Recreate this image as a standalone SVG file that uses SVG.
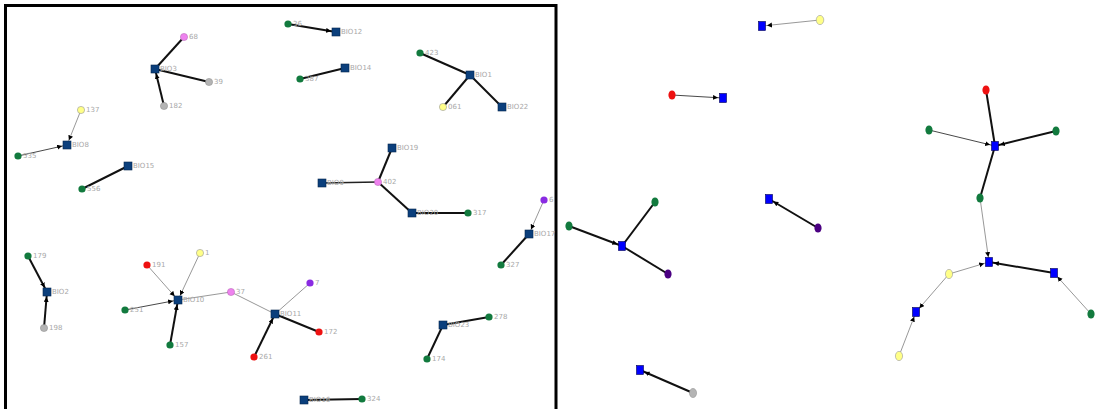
<svg xmlns="http://www.w3.org/2000/svg" width="1107" height="409" viewBox="0 0 1107 409">
<style>
.bg{fill:#fff}
.frame{fill:none;stroke:#000;stroke-width:3}
.sq{fill:#0b3f7c;stroke:#06264d;stroke-width:0.6}
.sqb{fill:#0000ff;stroke:#000050;stroke-width:0.6}
.g{fill:#127a3e}
.y{fill:#ffff88;stroke:#999;stroke-width:0.6}
.gr{fill:#b4b4b4;stroke:#888;stroke-width:0.5}
.pk{fill:#ee82ee;stroke:#b060b0;stroke-width:0.5}
.r{fill:#ee1111}
.pu{fill:#8a2be2}
.dp{fill:#4b0082}
.lbl{font-family:"DejaVu Sans",sans-serif;font-size:7px;fill:#a8a8a8}
.thick{stroke:#111;stroke-width:2;fill:none}
.med{stroke:#222;stroke-width:1.3;fill:none}
.thin{stroke:#8c8c8c;stroke-width:0.9;fill:none}
.thind{stroke:#333;stroke-width:0.9;fill:none}
</style>
<defs>
<marker id="ah" markerUnits="userSpaceOnUse" markerWidth="12" markerHeight="6" refX="10" refY="2.5" orient="auto">
<path d="M0,0 L5,2.5 L0,5 z" fill="#000"/>
</marker>
</defs>
<rect class="bg" x="0" y="0" width="1107" height="409"/>
<path class="frame" d="M5.5,412 V5.5 H556 V412"/>
<g id="connectors">
<line class="thick" x1="184" y1="37" x2="155" y2="69"/>
<line class="thick" x1="209" y1="82" x2="155" y2="69"/>
<line class="thick" x1="164" y1="106" x2="155" y2="69" marker-end="url(#ah)"/>
<line class="thick" x1="288" y1="24" x2="336" y2="32" marker-end="url(#ah)"/>
<line class="thick" x1="300" y1="79" x2="345" y2="68"/>
<line class="thick" x1="420" y1="53" x2="470" y2="75"/>
<line class="thick" x1="470" y1="75" x2="443" y2="107"/>
<line class="thick" x1="470" y1="75" x2="502" y2="107"/>
<line class="thin" x1="81" y1="110" x2="67" y2="145" marker-end="url(#ah)"/>
<line class="thind" x1="18" y1="156" x2="67" y2="145" marker-end="url(#ah)"/>
<line class="thick" x1="82" y1="189" x2="128" y2="166"/>
<line class="thick" x1="392" y1="148" x2="378" y2="182"/>
<line class="med" x1="322" y1="183" x2="378" y2="182"/>
<line class="thick" x1="378" y1="182" x2="412" y2="213"/>
<line class="thick" x1="412" y1="213" x2="468" y2="213"/>
<line class="thin" x1="544" y1="200" x2="529" y2="234" marker-end="url(#ah)"/>
<line class="thick" x1="501" y1="265" x2="529" y2="234"/>
<line class="thick" x1="28" y1="256" x2="47" y2="292" marker-end="url(#ah)"/>
<line class="thick" x1="44" y1="328" x2="47" y2="292" marker-end="url(#ah)"/>
<line class="thin" x1="147" y1="265" x2="178" y2="300" marker-end="url(#ah)"/>
<line class="thin" x1="200" y1="253" x2="178" y2="300" marker-end="url(#ah)"/>
<line class="thind" x1="125" y1="310" x2="178" y2="300" marker-end="url(#ah)"/>
<line class="thick" x1="170" y1="345" x2="178" y2="300" marker-end="url(#ah)"/>
<line class="thin" x1="178" y1="300" x2="231" y2="292"/>
<line class="thin" x1="231" y1="292" x2="275" y2="314"/>
<line class="thin" x1="310" y1="283" x2="275" y2="314"/>
<line class="thick" x1="275" y1="314" x2="319" y2="332"/>
<line class="thick" x1="254" y1="357" x2="275" y2="314" marker-end="url(#ah)"/>
<line class="thick" x1="443" y1="325" x2="489" y2="317"/>
<line class="thick" x1="427" y1="359" x2="443" y2="325"/>
<line class="thick" x1="304" y1="400" x2="362" y2="399"/>
<line class="thin" x1="820" y1="20" x2="762" y2="26" marker-end="url(#ah)"/>
<line class="thind" x1="672" y1="95" x2="723" y2="98" marker-end="url(#ah)"/>
<line class="thick" x1="986" y1="90" x2="995" y2="146"/>
<line class="thind" x1="929" y1="130" x2="995" y2="146" marker-end="url(#ah)"/>
<line class="thick" x1="1056" y1="131" x2="995" y2="146" marker-end="url(#ah)"/>
<line class="thick" x1="995" y1="146" x2="980" y2="198"/>
<line class="thin" x1="980" y1="198" x2="989" y2="262" marker-end="url(#ah)"/>
<line class="thin" x1="949" y1="274" x2="989" y2="262" marker-end="url(#ah)"/>
<line class="thick" x1="1054" y1="273" x2="989" y2="262" marker-end="url(#ah)"/>
<line class="thin" x1="1091" y1="314" x2="1054" y2="273" marker-end="url(#ah)"/>
<line class="thin" x1="949" y1="274" x2="916" y2="312" marker-end="url(#ah)"/>
<line class="thin" x1="899" y1="356" x2="916" y2="312" marker-end="url(#ah)"/>
<line class="thick" x1="569" y1="226" x2="622" y2="246" marker-end="url(#ah)"/>
<line class="thick" x1="655" y1="202" x2="622" y2="246"/>
<line class="thick" x1="622" y1="246" x2="668" y2="274"/>
<line class="thick" x1="818" y1="228" x2="769" y2="199" marker-end="url(#ah)"/>
<line class="thick" x1="693" y1="393" x2="640" y2="370" marker-end="url(#ah)"/>
</g>
<g id="n68"><circle class="pk" cx="184" cy="37" r="3.6"/><text class="lbl" x="189" y="39">68</text></g>
<g id="nBIO3"><rect class="sq" x="151" y="65" width="8" height="8"/><text class="lbl" x="160" y="71">BIO3</text></g>
<g id="n39"><circle class="gr" cx="209" cy="82" r="3.6"/><text class="lbl" x="214" y="84">39</text></g>
<g id="n182"><circle class="gr" cx="164" cy="106" r="3.6"/><text class="lbl" x="169" y="108">182</text></g>
<g id="n36"><circle class="g" cx="288" cy="24" r="3.6"/><text class="lbl" x="293" y="26">36</text></g>
<g id="nBIO12"><rect class="sq" x="332" y="28" width="8" height="8"/><text class="lbl" x="341" y="34">BIO12</text></g>
<g id="n387"><circle class="g" cx="300" cy="79" r="3.6"/><text class="lbl" x="305" y="81">387</text></g>
<g id="nBIO14"><rect class="sq" x="341" y="64" width="8" height="8"/><text class="lbl" x="350" y="70">BIO14</text></g>
<g id="n423"><circle class="g" cx="420" cy="53" r="3.6"/><text class="lbl" x="425" y="55">423</text></g>
<g id="nBIO1"><rect class="sq" x="466" y="71" width="8" height="8"/><text class="lbl" x="475" y="77">BIO1</text></g>
<g id="n061"><circle class="y" cx="443" cy="107" r="3.6"/><text class="lbl" x="448" y="109">061</text></g>
<g id="nBIO22"><rect class="sq" x="498" y="103" width="8" height="8"/><text class="lbl" x="507" y="109">BIO22</text></g>
<g id="n137"><circle class="y" cx="81" cy="110" r="3.6"/><text class="lbl" x="86" y="112">137</text></g>
<g id="nBIO8"><rect class="sq" x="63" y="141" width="8" height="8"/><text class="lbl" x="72" y="147">BIO8</text></g>
<g id="n535"><circle class="g" cx="18" cy="156" r="3.6"/><text class="lbl" x="23" y="158">535</text></g>
<g id="nBIO15"><rect class="sq" x="124" y="162" width="8" height="8"/><text class="lbl" x="133" y="168">BIO15</text></g>
<g id="n556"><circle class="g" cx="82" cy="189" r="3.6"/><text class="lbl" x="87" y="191">556</text></g>
<g id="nBIO19"><rect class="sq" x="388" y="144" width="8" height="8"/><text class="lbl" x="397" y="150">BIO19</text></g>
<g id="nBIO9"><rect class="sq" x="318" y="179" width="8" height="8"/><text class="lbl" x="327" y="185">BIO9</text></g>
<g id="n402"><circle class="pk" cx="378" cy="182" r="3.6"/><text class="lbl" x="383" y="184">402</text></g>
<g id="nBIO20"><rect class="sq" x="408" y="209" width="8" height="8"/><text class="lbl" x="417" y="215">BIO20</text></g>
<g id="n317"><circle class="g" cx="468" cy="213" r="3.6"/><text class="lbl" x="473" y="215">317</text></g>
<g id="n6"><circle class="pu" cx="544" cy="200" r="3.6"/><text class="lbl" x="549" y="202">6</text></g>
<g id="nBIO17"><rect class="sq" x="525" y="230" width="8" height="8"/><text class="lbl" x="534" y="236">BIO17</text></g>
<g id="n327"><circle class="g" cx="501" cy="265" r="3.6"/><text class="lbl" x="506" y="267">327</text></g>
<g id="n179"><circle class="g" cx="28" cy="256" r="3.6"/><text class="lbl" x="33" y="258">179</text></g>
<g id="nBIO2"><rect class="sq" x="43" y="288" width="8" height="8"/><text class="lbl" x="52" y="294">BIO2</text></g>
<g id="n198"><circle class="gr" cx="44" cy="328" r="3.6"/><text class="lbl" x="49" y="330">198</text></g>
<g id="n191"><circle class="r" cx="147" cy="265" r="3.6"/><text class="lbl" x="152" y="267">191</text></g>
<g id="n1"><circle class="y" cx="200" cy="253" r="3.6"/><text class="lbl" x="205" y="255">1</text></g>
<g id="nBIO10"><rect class="sq" x="174" y="296" width="8" height="8"/><text class="lbl" x="183" y="302">BIO10</text></g>
<g id="n251"><circle class="g" cx="125" cy="310" r="3.6"/><text class="lbl" x="130" y="312">251</text></g>
<g id="n157"><circle class="g" cx="170" cy="345" r="3.6"/><text class="lbl" x="175" y="347">157</text></g>
<g id="n37"><circle class="pk" cx="231" cy="292" r="3.6"/><text class="lbl" x="236" y="294">37</text></g>
<g id="n7"><circle class="pu" cx="310" cy="283" r="3.6"/><text class="lbl" x="315" y="285">7</text></g>
<g id="nBIO11"><rect class="sq" x="271" y="310" width="8" height="8"/><text class="lbl" x="280" y="316">BIO11</text></g>
<g id="n172"><circle class="r" cx="319" cy="332" r="3.6"/><text class="lbl" x="324" y="334">172</text></g>
<g id="n261"><circle class="r" cx="254" cy="357" r="3.6"/><text class="lbl" x="259" y="359">261</text></g>
<g id="nBIO23"><rect class="sq" x="439" y="321" width="8" height="8"/><text class="lbl" x="448" y="327">BIO23</text></g>
<g id="n278"><circle class="g" cx="489" cy="317" r="3.6"/><text class="lbl" x="494" y="319">278</text></g>
<g id="n174"><circle class="g" cx="427" cy="359" r="3.6"/><text class="lbl" x="432" y="361">174</text></g>
<g id="nBIO16"><rect class="sq" x="300" y="396" width="8" height="8"/><text class="lbl" x="309" y="402">BIO16</text></g>
<g id="n324"><circle class="g" cx="362" cy="399" r="3.6"/><text class="lbl" x="367" y="401">324</text></g>
<g id="r1"><rect class="sqb" x="758.5" y="21.5" width="7" height="9"/></g>
<g id="r2"><ellipse class="y" cx="820" cy="20" rx="3.8" ry="4.6"/></g>
<g id="r3"><ellipse class="r" cx="672" cy="95" rx="3.6" ry="4.6"/></g>
<g id="r4"><rect class="sqb" x="719.5" y="93.5" width="7" height="9"/></g>
<g id="r5"><ellipse class="r" cx="986" cy="90" rx="3.6" ry="4.6"/></g>
<g id="r6"><ellipse class="g" cx="929" cy="130" rx="3.6" ry="4.6"/></g>
<g id="r7"><ellipse class="g" cx="1056" cy="131" rx="3.6" ry="4.6"/></g>
<g id="r8"><rect class="sqb" x="991.5" y="141.5" width="7" height="9"/></g>
<g id="r9"><ellipse class="g" cx="980" cy="198" rx="3.6" ry="4.6"/></g>
<g id="r10"><rect class="sqb" x="985.5" y="257.5" width="7" height="9"/></g>
<g id="r11"><ellipse class="y" cx="949" cy="274" rx="3.6" ry="4.6"/></g>
<g id="r12"><rect class="sqb" x="1050.5" y="268.5" width="7" height="9"/></g>
<g id="r13"><ellipse class="g" cx="1091" cy="314" rx="3.6" ry="4.6"/></g>
<g id="r14"><rect class="sqb" x="912.5" y="307.5" width="7" height="9"/></g>
<g id="r15"><ellipse class="y" cx="899" cy="356" rx="3.6" ry="4.6"/></g>
<g id="r16"><ellipse class="g" cx="655" cy="202" rx="3.6" ry="4.6"/></g>
<g id="r17"><ellipse class="g" cx="569" cy="226" rx="3.6" ry="4.6"/></g>
<g id="r18"><rect class="sqb" x="618.5" y="241.5" width="7" height="9"/></g>
<g id="r19"><ellipse class="dp" cx="668" cy="274" rx="3.6" ry="4.6"/></g>
<g id="r20"><rect class="sqb" x="765.5" y="194.5" width="7" height="9"/></g>
<g id="r21"><ellipse class="dp" cx="818" cy="228" rx="3.6" ry="4.6"/></g>
<g id="r22"><rect class="sqb" x="636.5" y="365.5" width="7" height="9"/></g>
<g id="r23"><ellipse class="gr" cx="693" cy="393" rx="3.6" ry="4.6"/></g>
</svg>
